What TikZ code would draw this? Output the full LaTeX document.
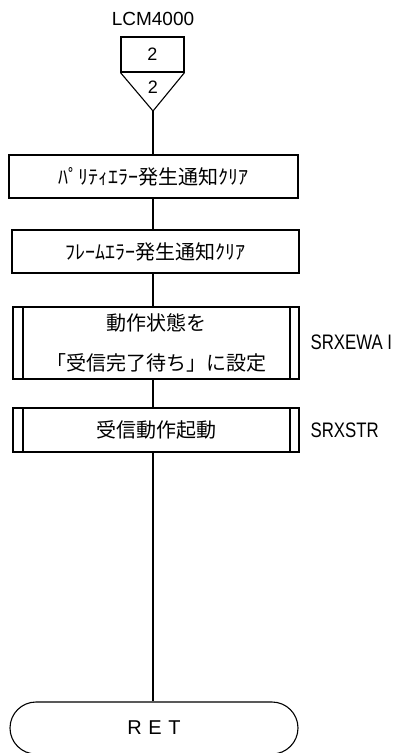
\documentclass[tikz,border=0pt]{standalone}
\usepackage{fontspec}
\setmainfont{Liberation Sans}
\newfontfamily\cjk{Noto Sans CJK JP}
\newfontfamily\narrowlbl[FakeStretch=0.8]{Liberation Sans}
\usepackage{tikz}

\begin{document}
\begin{tikzpicture}[x=1pt,y=-1pt,line width=1.1pt,
	procbox/.style={draw,rectangle,minimum height=43pt,inner sep=0pt,font=\cjk\fontsize{20}{24}\selectfont},
	subbox/.style={procbox,path picture={
		\draw([xshift=10pt]path picture bounding box.north west)--([xshift=10pt]path picture bounding box.south west);
		\draw([xshift=-9pt]path picture bounding box.north east)--([xshift=-9pt]path picture bounding box.south east);}},
	sidelbl/.style={anchor=west,inner sep=0pt,font=\narrowlbl\fontsize{21}{24}\selectfont}]
			\useasboundingbox(0,0)rectangle(396,753);
			\node[inner sep=0pt,font=\fontsize{19}{22}\selectfont](entry)at(153,19){LCM4000};
			\node[draw,minimum width=63pt,minimum height=35pt,inner sep=0pt,font=\fontsize{18}{20}\selectfont](conn)at(152.5,54.5){2};
			\coordinate(apex)at(153,111);
			\draw(conn.south west)--(apex)--(conn.south east);
			\node[inner sep=0pt,font=\fontsize{18}{20}\selectfont](connnum)at(153,87){2};
			\node[procbox,minimum width=289pt](parity)at(153.5,176.5){ﾊﾟﾘﾃｨｴﾗｰ発生通知ｸﾘｱ};
			\node[procbox,minimum width=287pt](frame)at(155.5,251.5){ﾌﾚｰﾑｴﾗｰ発生通知ｸﾘｱ};
			\node[subbox,minimum width=286pt,minimum height=72pt,align=center,font=\cjk\fontsize{20}{40}\selectfont](state)at(156,343){動作状態を\\「受信完了待ち」に設定};
			\node[subbox,minimum width=286pt,minimum height=44pt](rxstart)at(156,430){受信動作起動};
			\node[draw,rectangle,rounded corners=26pt,minimum width=288pt,minimum height=52pt,font=\fontsize{20}{24}\selectfont](ret)at(154,728){R\,\,E\,\,T};
			\node[sidelbl](lblstate)at(310,342){SRXEWA I};
			\node[sidelbl](lblstart)at(310,430){SRXSTR};
			\draw(apex)--(parity.north-|apex);
			\draw(parity.south-|apex)--(frame.north-|apex);
			\draw(frame.south-|apex)--(state.north-|apex);
			\draw(state.south-|apex)--(rxstart.north-|apex);
			\draw(rxstart.south-|apex)--(ret.north-|apex);
		\end{tikzpicture}
\end{document}
